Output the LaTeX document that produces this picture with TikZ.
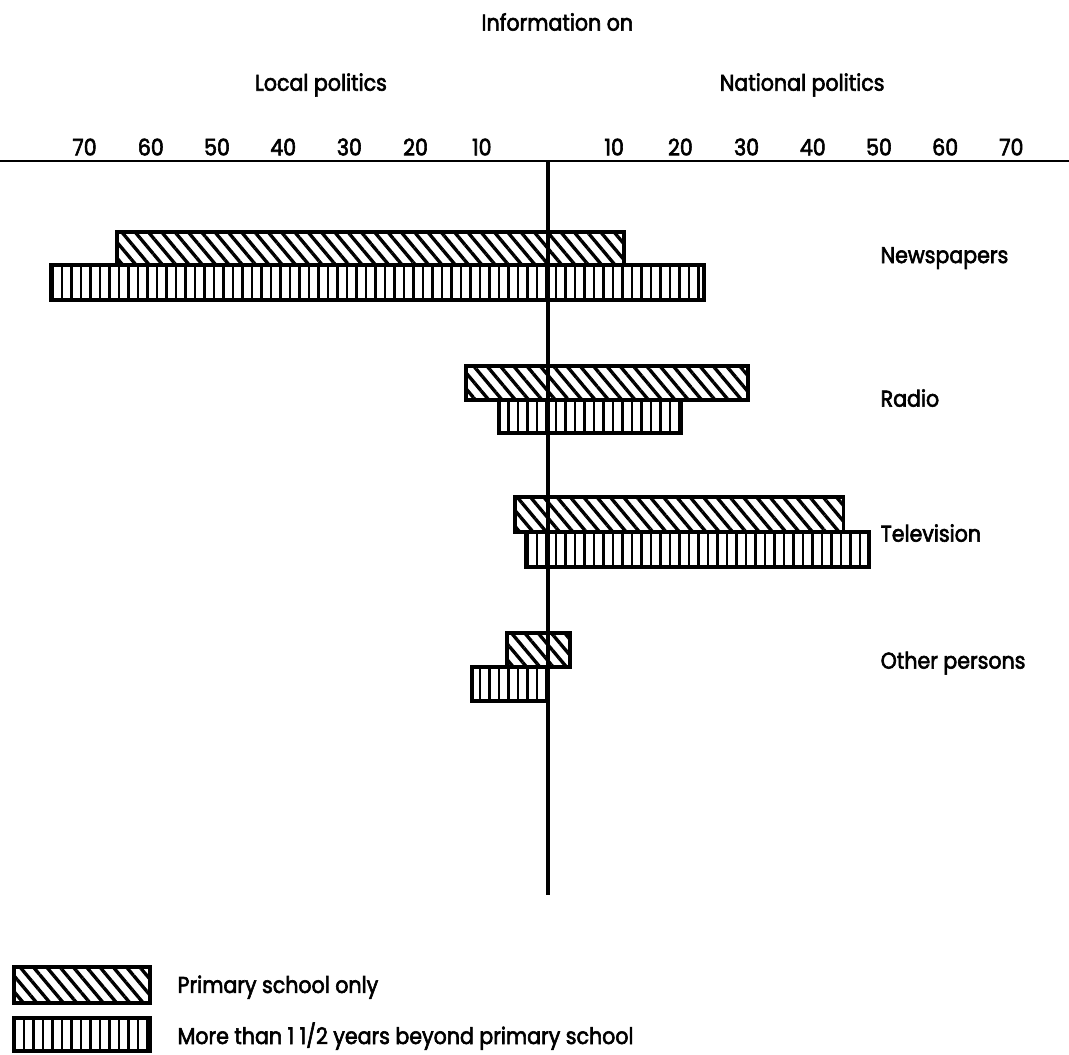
\documentclass[tikz,border=0pt]{standalone}
\usepackage{fontspec}
\setmainfont{Poppins}[FakeStretch=0.9,FakeBold=2.6]
\usetikzlibrary{patterns.meta}

\begin{document}
\begin{tikzpicture}[x=0.1324cm, y=-0.02cm,
        lbl/.style={font=\fontsize{13}{15}\selectfont, inner sep=0pt},
        primary/.style={draw, line width=2pt, pattern={Lines[angle=-50, distance=5.8pt, line width=1.9pt]}},
        beyond/.style={draw, line width=2pt, path picture={
            \foreach \sx in {-82,-80.565,...,80} \draw[line width=1.5pt] (\sx,0) -- (\sx,1054);}}]
        \useasboundingbox (-82.78,0) rectangle (78.70,1054);
        \node[lbl] (info) at (1.4,22) {Information on};
        \node[lbl] (local) at (-34.3,85) {Local politics};
        \node[lbl] (national) at (38.4,85) {National politics};
        \foreach \v in {10,20,...,70} {
            \node[lbl] (l\v) at (-\v,147) {\v};
            \node[lbl] (r\v) at (\v,147) {\v};
        }
        \draw[line width=1.2pt] (-82.78,161) -- (78.70,161);
        % bars
        \draw[primary] (-65.1,232) rectangle (11.5,265);
        \draw[beyond] (-75.1,265) rectangle (23.6,300);
        \draw[primary] (-12.4,366) rectangle (30.2,400);
        \draw[beyond] (-7.4,400) rectangle (20.2,433);
        \draw[primary] (-5.0,497) rectangle (44.6,532);
        \draw[beyond] (-3.3,532) rectangle (48.5,567);
        \draw[primary] (-6.2,633) rectangle (3.3,667);
        \draw[beyond] (-11.5,667) rectangle (0,701);
        \node[lbl,anchor=west] (news) at (50.2,258) {Newspapers};
        \node[lbl,anchor=west] (radio) at (50.2,398) {Radio};
        \node[lbl,anchor=west] (tv) at (50.2,533) {Television};
        \node[lbl,anchor=west] (other) at (50.2,663) {Other persons};
        \draw[line width=2pt] (0,161) -- (0,895);
        % legend
        \draw[primary] (-80.7,967) rectangle (-60.1,1003);
        \draw[beyond] (-80.7,1018) rectangle (-60.1,1051);
        \node[lbl,anchor=west] (keyprim) at (-56.0,987) {Primary school only};
        \node[lbl,anchor=west] (keybeyond) at (-56.0,1036) {More than 1 1/2 years beyond primary school};
    \end{tikzpicture}
\end{document}
